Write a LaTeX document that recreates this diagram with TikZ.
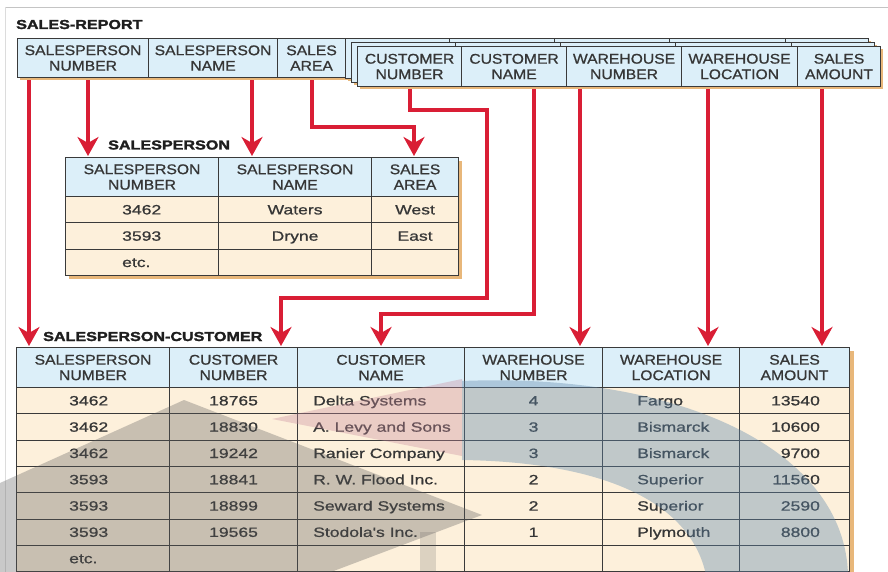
\documentclass[tikz,border=0pt]{standalone}
\usepackage{fontspec}
\setmainfont{Liberation Sans}
\newfontfamily\hdrfont[FakeStretch=1.12,FakeBold=0.9]{Liberation Sans}
\newfontfamily\datafont[FakeStretch=1.3,FakeBold=0.9]{Liberation Sans}
\newfontfamily\titlefont[FakeStretch=1.24,FakeBold=2]{Liberation Sans Bold}
\usetikzlibrary{arrows.meta,calc}

\definecolor{hdrblue}{HTML}{DCEFF9}
\definecolor{cream}{HTML}{FDF0DB}
\definecolor{gridline}{HTML}{3A3A3A}
\definecolor{ink}{HTML}{363636}
\definecolor{titleink}{HTML}{1E1E1E}
\definecolor{linkred}{HTML}{D91E35}
\definecolor{shadowtan}{HTML}{E8B77A}
\definecolor{framegrey}{HTML}{C4C4C4}
\definecolor{capgrey}{HTML}{5A5A5A}
\definecolor{swooshblue}{HTML}{5F88AC}
\definecolor{swooshpink}{HTML}{C98A9C}

\pgfdeclarelayer{paper}
\pgfdeclarelayer{links}
\pgfsetlayers{paper,links,main}

\tikzset{
  cellbase/.style={draw=gridline, line width=1.1pt, inner sep=0pt, anchor=north west},
  hcell/.style={cellbase, fill=hdrblue, text=ink, align=center,
    font=\hdrfont\fontsize{14}{15.5}\selectfont},
  dcell/.style={cellbase, fill=cream},
  dtext/.style={inner sep=0pt, text=ink, font=\datafont\fontsize{13.5}{16}\selectfont},
  titletext/.style={inner sep=0pt, anchor=base west, text=titleink,
    font=\titlefont\fontsize{13}{15}\selectfont},
  conn/.style={draw=linkred, line width=4pt, line join=miter, shorten >=1pt,
    -{Stealth[length=19pt,width=21pt,inset=6pt]}},
  shade/.style={fill=shadowtan},
}

% one record layer of the repeating group (cells without text)
\newcommand\emptylayer[3]{%
  \fill[shade] (#2+3,#3+3) rectangle (#2+526,#3+43);
  \node[hcell,minimum width=104pt,minimum height=40pt] (#1-1) at (#2,#3) {};
  \node[hcell,minimum width=105pt,minimum height=40pt] (#1-2) at (#2+104,#3) {};
  \node[hcell,minimum width=115pt,minimum height=40pt] (#1-3) at (#2+209,#3) {};
  \node[hcell,minimum width=116pt,minimum height=40pt] (#1-4) at (#2+324,#3) {};
  \node[hcell,minimum width=83pt,minimum height=40pt] (#1-5) at (#2+440,#3) {};
}

\begin{document}
\begin{tikzpicture}[x=1pt,y=-1pt]
\useasboundingbox (0,0) rectangle (888,572);
\begin{pgfonlayer}{paper}
\fill[white] (0,0) rectangle (888,572);
\draw[framegrey, line width=0.8pt] (5,7) -- (888,7);
\draw[framegrey!60, line width=0.6pt] (5,7) -- (5,572);
\end{pgfonlayer}

% ---------------- SALES-REPORT record ----------------
\node[titletext] (t-report) at (16,29) {SALES-REPORT};
\fill[shade] (20,41) rectangle (348,80);
\node[hcell,minimum width=131pt,minimum height=39pt] (rp-spnum) at (17,38) {SALESPERSON\\NUMBER};
\node[hcell,minimum width=129pt,minimum height=39pt] (rp-spname) at (148,38) {SALESPERSON\\NAME};
\node[hcell,minimum width=68pt,minimum height=39pt] (rp-area) at (277,38) {SALES\\AREA};

\emptylayer{back}{345}{38}
\emptylayer{mid}{351}{42}
\fill[shade] (360,49) rectangle (883,89);
\node[hcell,minimum width=104pt,minimum height=40pt] (cu-num) at (357,46) {CUSTOMER\\NUMBER};
\node[hcell,minimum width=105pt,minimum height=40pt] (cu-name) at (461,46) {CUSTOMER\\NAME};
\node[hcell,minimum width=115pt,minimum height=40pt] (wh-num) at (566,46) {WAREHOUSE\\NUMBER};
\node[hcell,minimum width=116pt,minimum height=40pt] (wh-loc) at (681,46) {WAREHOUSE\\LOCATION};
\node[hcell,minimum width=83pt,minimum height=40pt] (sl-amt) at (797,46) {SALES\\AMOUNT};

% ---------------- SALESPERSON table ----------------
\node[titletext] (t-sp) at (108,149.5) {SALESPERSON};
\fill[shade] (69,161) rectangle (462,279);
\node[hcell,minimum width=153pt,minimum height=39pt] (sp-h1) at (65,157) {SALESPERSON\\NUMBER};
\node[hcell,minimum width=153pt,minimum height=39pt] (sp-h2) at (218,157) {SALESPERSON\\NAME};
\node[hcell,minimum width=87pt,minimum height=39pt] (sp-h3) at (371,157) {SALES\\AREA};
\foreach \r/\y/\a/\b/\c in {1/196/3462/Waters/West, 2/222.3/3593/Dryne/East, 3/248.6/etc./{}/{}} {
  \node[dcell,minimum width=153pt,minimum height=26.3pt] (sp\r-1) at (65,\y) {};
  \node[dcell,minimum width=153pt,minimum height=26.3pt] (sp\r-2) at (218,\y) {};
  \node[dcell,minimum width=87pt,minimum height=26.3pt] (sp\r-3) at (371,\y) {};
  \node[dtext,anchor=base west] (spt\r-1) at ($(sp\r-1.west)+(57,4.7)$) {\a};
  \node[dtext,anchor=base] (spt\r-2) at ($(sp\r-2.center)+(0,4.7)$) {\b};
  \node[dtext,anchor=base] (spt\r-3) at ($(sp\r-3.center)+(0,4.7)$) {\c};
}

% ---------------- SALESPERSON-CUSTOMER table ----------------
\node[titletext] (t-sc) at (43,341) {SALESPERSON-CUSTOMER};
\fill[shade] (20,351) rectangle (854,580);
\node[hcell,minimum width=153pt,minimum height=40pt] (sc-h1) at (16,347) {SALESPERSON\\NUMBER};
\node[hcell,minimum width=128pt,minimum height=40pt] (sc-h2) at (169,347) {CUSTOMER\\NUMBER};
\node[hcell,minimum width=167pt,minimum height=40pt] (sc-h3) at (297,347) {CUSTOMER\\NAME};
\node[hcell,minimum width=138pt,minimum height=40pt] (sc-h4) at (464,347) {WAREHOUSE\\NUMBER};
\node[hcell,minimum width=137pt,minimum height=40pt] (sc-h5) at (602,347) {WAREHOUSE\\LOCATION};
\node[hcell,minimum width=110pt,minimum height=40pt] (sc-h6) at (739,347) {SALES\\AMOUNT};
\foreach \r/\y/\a/\b/\c/\d/\e/\f in {
  1/387/3462/18765/Delta Systems/4/Fargo/13540,
  2/413.3/3462/18830/A. Levy and Sons/3/Bismarck/10600,
  3/439.6/3462/19242/Ranier Company/3/Bismarck/9700,
  4/465.9/3593/18841/R. W. Flood Inc./2/Superior/11560,
  5/492.2/3593/18899/Seward Systems/2/Superior/2590,
  6/518.5/3593/19565/Stodola's Inc./1/Plymouth/8800,
  7/544.8/etc./{}/{}/{}/{}/{}} {
  \node[dcell,minimum width=153pt,minimum height=26.3pt] (sc\r-1) at (16,\y) {};
  \node[dcell,minimum width=128pt,minimum height=26.3pt] (sc\r-2) at (169,\y) {};
  \node[dcell,minimum width=167pt,minimum height=26.3pt] (sc\r-3) at (297,\y) {};
  \node[dcell,minimum width=138pt,minimum height=26.3pt] (sc\r-4) at (464,\y) {};
  \node[dcell,minimum width=137pt,minimum height=26.3pt] (sc\r-5) at (602,\y) {};
  \node[dcell,minimum width=110pt,minimum height=26.3pt] (sc\r-6) at (739,\y) {};
  \node[dtext,anchor=base west] (sct\r-1) at ($(sc\r-1.west)+(53,4.7)$) {\a};
  \node[dtext,anchor=base] (sct\r-2) at ($(sc\r-2.center)+(0,4.7)$) {\b};
  \node[dtext,anchor=base west] (sct\r-3) at ($(sc\r-3.west)+(16,4.7)$) {\c};
  \node[dtext,anchor=base] (sct\r-4) at ($(sc\r-4.center)+(0,4.7)$) {\d};
  \node[dtext,anchor=base west] (sct\r-5) at ($(sc\r-5.west)+(35,4.7)$) {\e};
  \node[dtext,anchor=base east] (sct\r-6) at ($(sc\r-6.east)+(-30,4.7)$) {\f};
}

% ---------------- field links ----------------
\coordinate (lane1) at (29,0);
\coordinate (lane2) at (88,0);
\coordinate (lane3) at (252,0);
\coordinate (j4) at (414,127);
\coordinate (j5a) at (487,110);
\coordinate (j5b) at (281,298);
\coordinate (j6) at (534,314);
\coordinate (lane7) at (580,0);
\coordinate (lane8) at (708,0);
\coordinate (lane9) at (822,0);
\begin{pgfonlayer}{links}
\draw[conn] (rp-spnum.south -| lane1) -- (sc-h1.north -| lane1);
\draw[conn] (rp-spnum.south -| lane2) -- (sp-h1.north -| lane2);
\draw[conn] (rp-spname.south -| lane3) -- (sp-h2.north -| lane3);
\draw[conn] (rp-area.south) |- (j4) -- (sp-h3.north -| j4);
\draw[conn] (cu-num.south) |- (j5a) |- (j5b) -- (sc-h2.north -| j5b);
\draw[conn] (cu-name.south -| j6) -- (j6) -| (sc-h3.north);
\draw[conn] (wh-num.south -| lane7) -- (sc-h4.north -| lane7);
\draw[conn] (wh-loc.south -| lane8) -- (sc-h5.north -| lane8);
\draw[conn] (sl-amt.south -| lane9) -- (sc-h6.north -| lane9);
\end{pgfonlayer}

% ---------------- translucent emblem over the lower table ----------------
\fill[capgrey, fill opacity=0.32] (184,400) -- (482,515) -- (331,572) -- (0,572) -- (0,483) -- cycle;
\fill[capgrey, fill opacity=0.2] (420,532) rectangle (436,572);
\fill[swooshpink, fill opacity=0.35] (272,419) -- (462,379) -- (462,456) -- cycle;
\fill[swooshblue, fill opacity=0.38] (462,381) .. controls (680,372) and (845,450) .. (848,575)
  -- (706,575) .. controls (690,500) and (600,462) .. (462,460) -- cycle;
\end{tikzpicture}
\end{document}
